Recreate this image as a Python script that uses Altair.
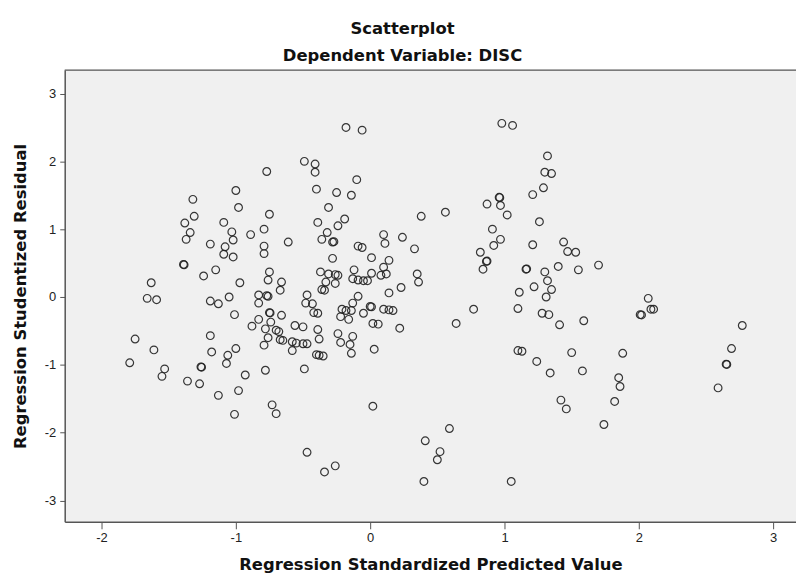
import altair as alt
import pandas as pd

# Regression standardized predicted value (x) and studentized residual (y)
x_left = [-0.77, -1.00, -1.32, -0.98, -0.75, -1.31, -1.38, -1.09, -1.34, -1.03,
          -0.79, -0.89, -1.37, -1.02, -1.19, -0.61, -1.08, -0.79, -1.09, -1.02,
          -0.79, -1.39, -1.385, -1.15, -1.24, -0.75, -0.76, -0.97, -0.66, -0.67,
          -1.63, -0.83, -0.77, -0.76, -1.05, -1.19, -1.13, -1.66, -1.59, -0.83,
          -1.01, -0.75, -0.745, -0.66, -0.83, -0.74, -0.88, -0.56, -0.78, -0.70,
          -0.68, -0.76, -0.67, -0.65, -0.58, -0.55, -0.58, -0.79, -1.19, -1.75,
          -1.61, -1.18, -1.00, -1.06, -1.79, -1.07, -1.53, -1.26, -1.255, -1.55,
          -0.93, -0.78, -1.36, -1.27, -0.98, -1.13, -0.73, -0.70, -1.01]
y_left = [1.85, 1.57, 1.44, 1.32, 1.22, 1.19, 1.09, 1.10, 0.95, 0.96,
          1.00, 0.92, 0.85, 0.84, 0.78, 0.81, 0.74, 0.75, 0.63, 0.59,
          0.64, 0.48, 0.475, 0.40, 0.31, 0.37, 0.25, 0.21, 0.22, 0.10,
          0.21, 0.03, 0.02, 0.01, 0.00, -0.06, -0.10, -0.02, -0.04, -0.09,
          -0.26, -0.23, -0.235, -0.27, -0.33, -0.37, -0.43, -0.42, -0.47, -0.49,
          -0.51, -0.60, -0.63, -0.64, -0.66, -0.68, -0.79, -0.71, -0.57, -0.62,
          -0.78, -0.81, -0.76, -0.86, -0.97, -0.98, -1.06, -1.03, -1.035, -1.17,
          -1.15, -1.08, -1.24, -1.28, -1.38, -1.45, -1.59, -1.72, -1.73]

x_mid = [-0.18, -0.06, -0.49, -0.41, -0.41, -0.10, -0.40, -0.25, -0.14, -0.31,
         -0.19, -0.39, -0.24, -0.32, -0.36, -0.28, -0.27, 0.10, 0.11, 0.24,
         -0.09, -0.06, 0.01, 0.33, 0.38, 0.56, -0.28, 0.14, 0.10, 0.12,
         0.08, -0.37, -0.31, -0.26, -0.24, -0.12, 0.01, 0.35, 0.36, -0.33,
         -0.26, -0.13, -0.09, -0.05, -0.02, -0.36, -0.34, 0.14, 0.23, -0.47,
         -0.09, -0.48, -0.43, -0.13, 0.00, 0.01, -0.21, -0.18, -0.14, -0.42,
         -0.39, -0.05, 0.10, 0.14, 0.17, -0.22, -0.16, 0.02, 0.06, 0.22,
         -0.50, -0.39, -0.38, -0.24, -0.13, -0.50, -0.47, -0.40, -0.38, -0.35,
         -0.22, -0.15, -0.14, 0.03, -0.49, 0.02, 0.64, 0.77, -0.47, -0.34,
         -0.26, 0.41, 0.59, 0.52, 0.50, 0.40, 1.05]
y_mid = [2.50, 2.46, 2.00, 1.96, 1.84, 1.73, 1.59, 1.54, 1.50, 1.32,
         1.15, 1.10, 1.05, 0.95, 0.85, 0.81, 0.815, 0.92, 0.79, 0.88,
         0.75, 0.73, 0.58, 0.71, 1.19, 1.25, 0.57, 0.54, 0.44, 0.34,
         0.32, 0.37, 0.34, 0.33, 0.32, 0.40, 0.35, 0.34, 0.22, 0.22,
         0.20, 0.27, 0.25, 0.24, 0.24, 0.11, 0.10, 0.06, 0.14, 0.03,
         0.01, -0.09, -0.10, -0.09, -0.14, -0.145, -0.18, -0.20, -0.20, -0.23,
         -0.24, -0.24, -0.18, -0.19, -0.20, -0.29, -0.33, -0.39, -0.40, -0.46,
         -0.44, -0.48, -0.62, -0.54, -0.58, -0.69, -0.69, -0.85, -0.86, -0.87,
         -0.67, -0.70, -0.83, -0.77, -1.06, -1.61, -0.39, -0.18, -2.29, -2.58,
         -2.49, -2.12, -1.94, -2.28, -2.40, -2.72, -2.72]

x_right = [0.98, 1.06, 0.87, 0.96, 0.965, 0.97, 1.02, 0.91, 0.97, 0.92,
           0.82, 0.87, 0.865, 0.84, 1.16, 1.165, 1.11, 1.32, 1.30, 1.35,
           1.29, 1.21, 1.26, 1.21, 1.44, 1.47, 1.53, 1.30, 1.40, 1.55,
           1.70, 1.32, 1.22, 1.35, 1.31, 2.07, 1.10, 1.28, 1.33, 1.41,
           1.59, 2.01, 2.02, 2.09, 2.11, 2.77, 2.69, 2.65, 2.655, 2.59,
           1.10, 1.13, 1.24, 1.34, 1.50, 1.58, 1.88, 1.85, 1.86, 1.82,
           1.42, 1.46, 1.74]
y_right = [2.56, 2.53, 1.37, 1.47, 1.465, 1.35, 1.21, 1.00, 0.85, 0.76,
           0.66, 0.53, 0.525, 0.41, 0.41, 0.415, 0.07, 2.08, 1.84, 1.82,
           1.61, 1.51, 1.11, 0.77, 0.81, 0.67, 0.66, 0.37, 0.45, 0.40,
           0.47, 0.24, 0.15, 0.11, 0.00, -0.02, -0.17, -0.24, -0.26, -0.41,
           -0.35, -0.26, -0.265, -0.18, -0.18, -0.42, -0.76, -0.99, -0.995, -1.34,
           -0.79, -0.80, -0.95, -1.12, -0.82, -1.09, -0.83, -1.19, -1.32, -1.54,
           -1.52, -1.65, -1.88]

x_ticks = [-2, -1, 0, 1, 2, 3]
y_ticks = [-3, -2, -1, 0, 1, 2, 3]

df = pd.DataFrame({"pred": x_left + x_mid + x_right,
                   "resid": y_left + y_mid + y_right})

W, H = 735, 454
X_DOMAIN = [-2.274, 3.170]
Y_DOMAIN = [-3.315, 3.345]
TITLE_FONT = "DejaVu Sans"
LABEL_FONT = "Liberation Sans"

points = alt.Chart(df).mark_point(
    shape="circle", filled=False, size=60, strokeWidth=1.2,
    color="#222222", opacity=0.9
).encode(
    x=alt.X("pred:Q",
            scale=alt.Scale(domain=X_DOMAIN, nice=False, zero=False),
            axis=alt.Axis(values=x_ticks, title="Regression Standardized Predicted Value",
                          tickSize=7, labelPadding=3, titlePadding=12,
                          labelExpr="'' + datum.value")),
    y=alt.Y("resid:Q",
            scale=alt.Scale(domain=Y_DOMAIN, nice=False, zero=False),
            axis=alt.Axis(values=y_ticks, title="Regression Studentized Residual",
                          tickSize=5, labelPadding=4, titlePadding=16,
                          labelExpr="'' + datum.value")),
)

top_border = alt.Chart(pd.DataFrame({"k": [0]})).mark_rule(
    color="#555555", strokeWidth=1.5
).encode(x=alt.value(0), x2=alt.value(W), y=alt.value(0))

chart = alt.layer(points, top_border).properties(
    width=W, height=H,
    autosize="none",
    padding={"left": 57, "top": 61, "right": 0, "bottom": 51},
    title=alt.TitleParams(
        text="Scatterplot", subtitle="Dependent Variable: DISC",
        font=TITLE_FONT, fontSize=16.5, fontWeight="bold", color="#111111",
        subtitleFont=TITLE_FONT, subtitleFontSize=16.5, subtitleFontWeight="bold",
        subtitleColor="#111111", subtitlePadding=11,
        anchor="middle", dx=-28, offset=5),
).configure(background="white").configure_view(
    fill="#F0F0F0", stroke=None
).configure_axis(
    grid=False, domainColor="#555555", domainWidth=1.5,
    tickColor="#555555", tickWidth=1,
    labelFont=LABEL_FONT, labelFontSize=13, labelColor="#222222",
    titleFont=TITLE_FONT, titleFontWeight="bold", titleFontSize=16.5, titleColor="#111111",
)

chart.save("out.html", embed_options={"renderer": "svg", "actions": False})
